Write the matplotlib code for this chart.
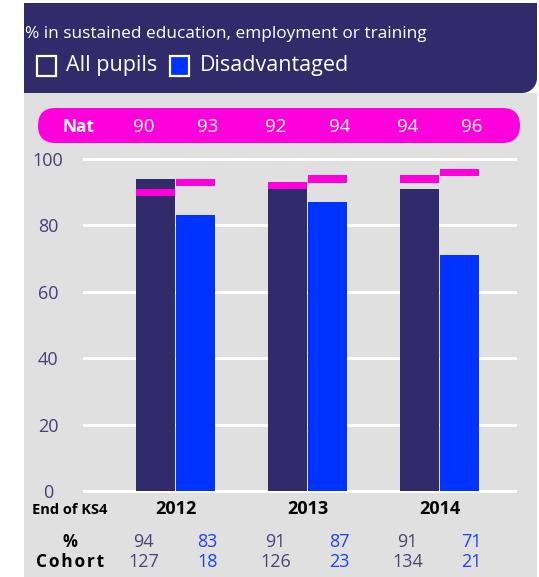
import matplotlib
matplotlib.use("Agg")
import matplotlib.pyplot as plt
from matplotlib.patches import Rectangle, FancyBboxPatch, Circle
from matplotlib.transforms import blended_transform_factory

plt.rcParams['font.family'] = ['Open Sans', 'DejaVu Sans']

years = ["2012", "2013", "2014"]
all_pupils = [94, 91, 91]
disadvantaged = [83, 87, 71]
nat_all = [90, 92, 94]
nat_dis = [93, 94, 96]
cohort_all = [127, 126, 134]
cohort_dis = [18, 23, 21]
yticks = [0, 20, 40, 60, 80, 100]
title = "% in sustained education, employment or training"
legend_labels = ["All pupils", "Disadvantaged"]

NAVY = "#322b6b"
BLUE = "#0033ff"
MAG = "#ff00dd"
GRAY = "#e0e0e0"
TICK = "#453f7c"
VALNAVY = "#4a4578"
VALBLUE = "#1f3fff"

W, H = 539, 577
fig = plt.figure(figsize=(W / 100, H / 100), dpi=100)
bg = fig.add_axes([0, 0, 1, 1])
bg.set_xlim(0, W)
bg.set_ylim(0, H)
bg.axis("off")

def Y(y):
    return H - y

# gray panel
bg.add_patch(Rectangle((24, Y(577)), 513, 577 - 93, color=GRAY, lw=0))
# header with rounded bottom-right corner
r = 15
bg.add_patch(Rectangle((24, Y(93)), 513 - r, 93 - 3, color=NAVY, lw=0))
bg.add_patch(Rectangle((24, Y(93 - r)), 513, 93 - 3 - r, color=NAVY, lw=0))
bg.add_patch(Circle((537 - r, Y(93 - r)), r, color=NAVY, lw=0))

bg.text(25, Y(34), title, color="white", fontsize=12.45, va="center", ha="left")
# legend
bg.add_patch(Rectangle((37, Y(76)), 19, 20, facecolor=NAVY, edgecolor="white", lw=1.6))
bg.text(66, Y(66), legend_labels[0], color="white", fontsize=15.5, va="center", ha="left")
bg.add_patch(Rectangle((170, Y(76)), 19, 20, facecolor=BLUE, edgecolor="white", lw=1.6))
bg.text(200, Y(66), legend_labels[1], color="white", fontsize=15.5, va="center", ha="left")

# Nat pill
bg.add_patch(FancyBboxPatch((38, Y(143)), 482, 35,
                            boxstyle="round,pad=0,rounding_size=17.5",
                            facecolor=MAG, edgecolor="none"))

# chart axes
left, right, top, bottom = 84, 515, 159, 491
ax = fig.add_axes([left / W, (H - bottom) / H, (right - left) / W, (bottom - top) / H])
ax.patch.set_alpha(0)
spacing = 132.0
c0 = (175.5 - left) / spacing
ax.set_xlim(-c0, (right - left) / spacing - c0)
ax.set_ylim(0, 100)
for s in ax.spines.values():
    s.set_visible(False)
ax.set_xticks([])
ax.set_yticks(yticks)
ax.tick_params(axis="y", length=0, pad=(left - 48) * 0.72, labelsize=13, labelcolor=TICK)
for lbl in ax.get_yticklabels():
    lbl.set_horizontalalignment("center")
for t in yticks:
    ax.axhline(t, color="white", lw=2.2, zorder=0, clip_on=False)

x = list(range(len(years)))
bw = 39 / spacing
off = 20 / spacing
ax.bar([i - off for i in x], all_pupils, width=bw, color=NAVY, zorder=2)
ax.bar([i + off for i in x], disadvantaged, width=bw, color=BLUE, zorder=2)
mh = 2.2
ax.bar([i - off for i in x], [mh] * 3, bottom=[v - mh / 2 for v in nat_all], width=bw, color=MAG, zorder=3)
ax.bar([i + off for i in x], [mh] * 3, bottom=[v - mh / 2 for v in nat_dis], width=bw, color=MAG, zorder=3)

# texts under / over the chart, x in data, y in figure pixels
tr = blended_transform_factory(ax.transData, bg.transData)
pos_off = 32 / spacing
bg.text(78, Y(127), "Nat", color="white", fontsize=12.5, fontweight="bold", ha="center", va="center")
for i in x:
    ax.text(i - pos_off, Y(127), str(nat_all[i]), transform=tr, color="white", fontsize=13.5, ha="center", va="center")
    ax.text(i + pos_off, Y(127), str(nat_dis[i]), transform=tr, color="white", fontsize=13.5, ha="center", va="center")
    ax.text(i, Y(509), years[i], transform=tr, color="black", fontsize=13, fontweight="bold", ha="center", va="center")
    ax.text(i - pos_off, Y(542), str(all_pupils[i]), transform=tr, color=VALNAVY, fontsize=13, ha="center", va="center")
    ax.text(i + pos_off, Y(542), str(disadvantaged[i]), transform=tr, color=VALBLUE, fontsize=13, ha="center", va="center")
    ax.text(i - pos_off, Y(562), str(cohort_all[i]), transform=tr, color=VALNAVY, fontsize=13, ha="center", va="center")
    ax.text(i + pos_off, Y(562), str(cohort_dis[i]), transform=tr, color=VALBLUE, fontsize=13, ha="center", va="center")

bg.text(70, Y(510), "End of KS4", color="black", fontsize=10.5, fontweight="bold", ha="center", va="center")
bg.text(70, Y(542), "%", color="black", fontsize=12, fontweight="bold", ha="center", va="center")
bg.text(70, Y(562), "C o h o r t".replace(" ", "\u200a"), color="black", fontsize=12.5, fontweight="bold", ha="center", va="center")

fig.savefig("out.png", dpi=100)
